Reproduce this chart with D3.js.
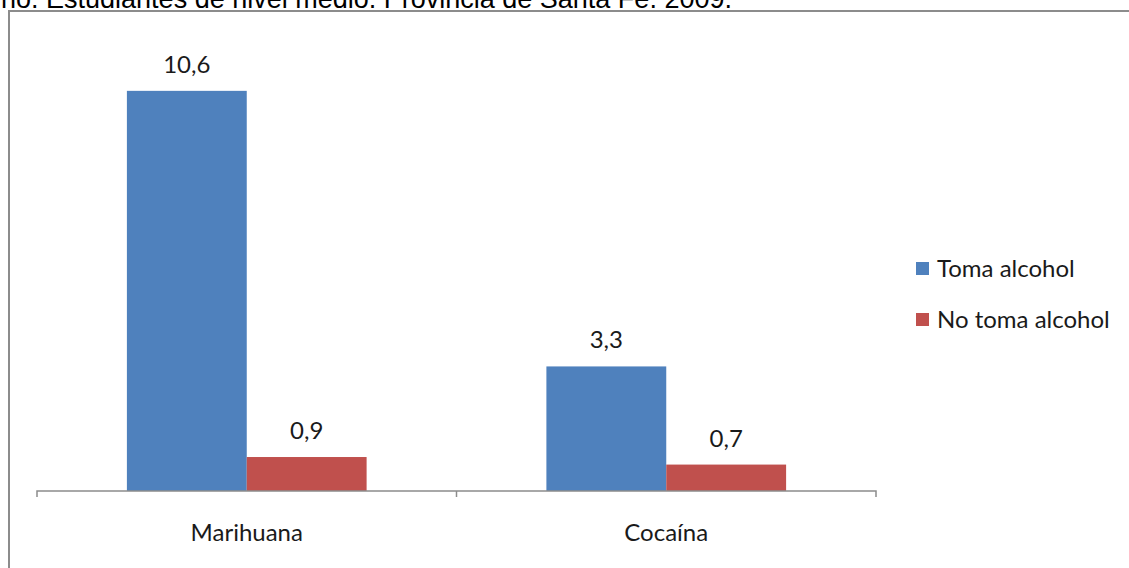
<!DOCTYPE html>
<html>
<head>
<meta charset="utf-8">
<script src="https://cdn.jsdelivr.net/npm/d3@7"></script>
<style>
  body { margin: 0; background: #fff; }
  svg { display: block; }
</style>
</head>
<body>
<svg width="1129" height="568"></svg>
<script>
// values
var categories = ["Marihuana", "Cocaína"];
var seriesNames = ["Toma alcohol", "No toma alcohol"];
var tomaAlcohol = [10.6, 3.3];
var noTomaAlcohol = [0.9, 0.7];
var colors = ["#4F81BD", "#C0504D"];
var titleText = "no. Estudiantes de nivel medio. Provincia de Santa Fe. 2009.";

var svg = d3.select("svg"),
    width = +svg.attr("width"),
    height = +svg.attr("height");

var fmt = function(v) { return d3.format(".1f")(v).replace(".", ","); };
var labelFont = "Lato, Open Sans, sans-serif";

// caption at the top, cut by the page edge as in the source
svg.append("text")
    .attr("x", 1)
    .attr("y", 8)
    .attr("font-family", "Liberation Sans, Arial, sans-serif")
    .attr("font-size", 27)
    .attr("fill", "#000")
    .text(titleText);

// chart frame (right side is cut off)
svg.append("path")
    .attr("d", "M9,568 V11 H1135")
    .attr("fill", "none")
    .attr("stroke", "#8c8c8c")
    .attr("stroke-width", 2);

var x0 = d3.scaleBand()
    .domain(categories)
    .range([37, 876])
    .paddingInner(0)
    .paddingOuter(0);

var x1 = d3.scaleBand()
    .domain(seriesNames)
    .range([0, x0.bandwidth()])
    .paddingInner(0)
    .paddingOuter(0.75);

var y = d3.scaleLinear()
    .domain([0, 12])
    .range([491, 38]);

var rows = categories.map(function(c, i) {
  return { cat: c, vals: [tomaAlcohol[i], noTomaAlcohol[i]] };
});

var groups = svg.selectAll("g.grp")
    .data(rows)
    .enter().append("g")
    .attr("class", "grp")
    .attr("transform", function(d) { return "translate(" + x0(d.cat) + ",0)"; });

groups.selectAll("rect")
    .data(function(d) { return d.vals.map(function(v, j) { return { s: seriesNames[j], v: v, j: j }; }); })
    .enter().append("rect")
    .attr("x", function(d) { return x1(d.s); })
    .attr("y", function(d) { return y(d.v); })
    .attr("width", x1.bandwidth())
    .attr("height", function(d) { return y(0) - y(d.v); })
    .attr("fill", function(d) { return colors[d.j]; });

groups.selectAll("text.val")
    .data(function(d) { return d.vals.map(function(v, j) { return { s: seriesNames[j], v: v }; }); })
    .enter().append("text")
    .attr("class", "val")
    .attr("x", function(d) { return x1(d.s) + x1.bandwidth() / 2; })
    .attr("y", function(d) { return y(d.v) - 18; })
    .attr("text-anchor", "middle")
    .attr("font-family", labelFont)
    .attr("font-size", 24)
    .attr("fill", "#1a1a1a")
    .text(function(d) { return fmt(d.v); });

// category axis
var gX = svg.append("g")
    .attr("transform", "translate(0," + y(0) + ")");

gX.append("path")
    .attr("d", "M37,6 V0 H876 V6")
    .attr("fill", "none")
    .attr("stroke", "#8c8c8c")
    .attr("stroke-width", 1.5);

gX.append("line")
    .attr("x1", x0(categories[1]))
    .attr("x2", x0(categories[1]))
    .attr("y1", 0)
    .attr("y2", 6)
    .attr("stroke", "#8c8c8c")
    .attr("stroke-width", 1.5);

gX.selectAll("text.cat")
    .data(categories)
    .enter().append("text")
    .attr("class", "cat")
    .attr("x", function(d) { return x0(d) + x0.bandwidth() / 2; })
    .attr("y", 50)
    .attr("text-anchor", "middle")
    .attr("font-family", labelFont)
    .attr("font-size", 24)
    .attr("fill", "#1a1a1a")
    .text(function(d) { return d; });

// legend
var legend = svg.append("g")
    .attr("transform", "translate(916,262)");

var li = legend.selectAll("g")
    .data(seriesNames)
    .enter().append("g")
    .attr("transform", function(d, i) { return "translate(0," + (i * 51) + ")"; });

li.append("rect")
    .attr("width", 13)
    .attr("height", 13)
    .attr("fill", function(d, i) { return colors[i]; });

li.append("text")
    .attr("x", 21)
    .attr("y", 15)
    .attr("font-family", labelFont)
    .attr("font-size", 24)
    .attr("fill", "#1a1a1a")
    .text(function(d) { return d; });
</script>
</body>
</html>
